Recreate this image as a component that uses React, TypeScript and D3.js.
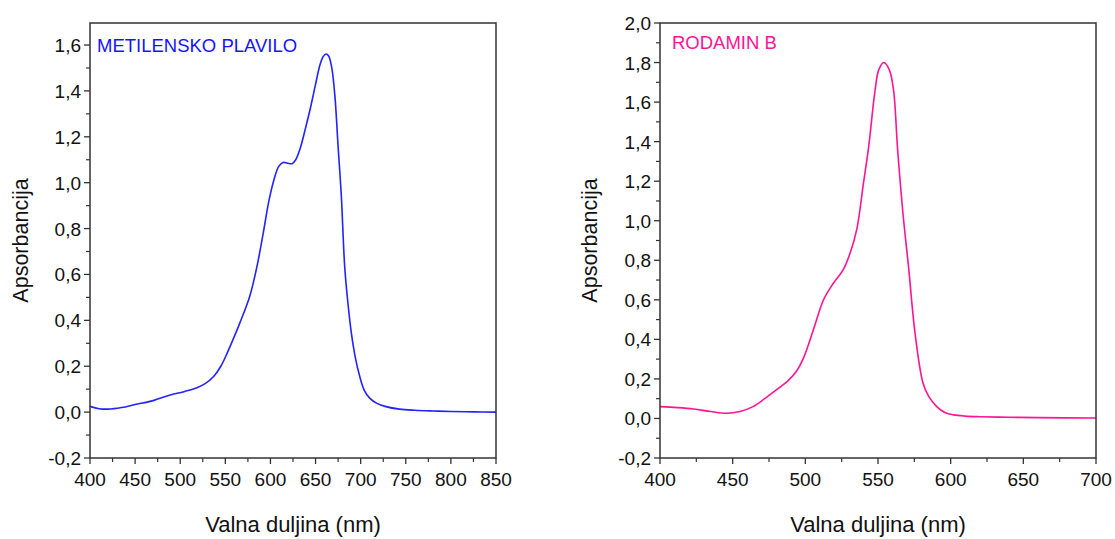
import React from "react";
import * as d3 from "d3";

const mbWavelength = [400, 410, 420, 435, 450, 470, 489, 505, 518, 528, 537, 545, 552, 560, 566, 577, 585, 592, 598, 603, 609, 614, 619, 624, 628, 633, 639, 644, 649.5, 655, 658.5, 661.6, 664.5, 668, 671.5, 675, 678.6, 682.3, 686, 689.7, 694, 699, 704, 710, 718, 728, 743, 760, 780, 800, 825, 850];
const mbAbsorbance = [0.025, 0.015, 0.013, 0.02, 0.033, 0.05, 0.075, 0.09, 0.105, 0.125, 0.155, 0.2, 0.257, 0.33, 0.388, 0.504, 0.634, 0.78, 0.915, 1.0, 1.07, 1.088, 1.085, 1.083, 1.1, 1.15, 1.24, 1.32, 1.42, 1.515, 1.55, 1.561, 1.552, 1.5, 1.375, 1.157, 0.94, 0.634, 0.47, 0.344, 0.24, 0.155, 0.095, 0.061, 0.038, 0.024, 0.013, 0.008, 0.005, 0.003, 0.001, 0.0];

const rbWavelength = [400, 412, 423, 435, 446, 455, 464, 472, 480, 488, 494, 499, 505.5, 512.4, 519.3, 526, 531, 535.5, 540, 543.5, 548, 550.5, 554, 557.8, 560.7, 563.5, 567.4, 571, 575.5, 581, 585, 590.4, 596, 602, 610, 620, 640, 660, 700];
const rbAbsorbance = [0.06, 0.055, 0.048, 0.035, 0.026, 0.035, 0.06, 0.1, 0.144, 0.19, 0.24, 0.31, 0.447, 0.598, 0.684, 0.751, 0.84, 0.96, 1.19, 1.37, 1.66, 1.763, 1.8, 1.763, 1.66, 1.36, 1.02, 0.768, 0.431, 0.178, 0.11, 0.06, 0.03, 0.018, 0.012, 0.009, 0.006, 0.004, 0.002];

const mbXTicks = [400, 450, 500, 550, 600, 650, 700, 750, 800, 850];
const mbYTicks = [-0.2, 0, 0.2, 0.4, 0.6, 0.8, 1.0, 1.2, 1.4, 1.6];
const rbXTicks = [400, 450, 500, 550, 600, 650, 700];
const rbYTicks = [-0.2, 0, 0.2, 0.4, 0.6, 0.8, 1.0, 1.2, 1.4, 1.6, 1.8, 2.0];

const xTitle = "Valna duljina (nm)";
const yTitle = "Apsorbancija";

const FONT = "'Liberation Sans', Arial, sans-serif";
const AXIS = "#333";

type PanelProps = {
  x0: number; x1: number; y0: number; y1: number;
  xDomain: [number, number]; yDomain: [number, number];
  xTicks: number[]; yTicks: number[];
  xs: number[]; ys: number[];
  color: string; label: string; labelColor: string;
  labelDx: number; labelY: number; yTitleX: number;
};

const fmt = (v: number) => d3.format(".1f")(v).replace(".", ",").replace("−", "-");

function Panel(p: PanelProps) {
  const x = d3.scaleLinear().domain(p.xDomain).range([p.x0, p.x1]);
  const y = d3.scaleLinear().domain(p.yDomain).range([p.y1, p.y0]);
  const pts = p.xs.map((w, i) => [w, p.ys[i]] as [number, number]);
  const line = d3.line<[number, number]>().x(d => x(d[0])).y(d => y(d[1])).curve(d3.curveCatmullRom.alpha(0.5));
  const xStep = p.xTicks[1] - p.xTicks[0];
  const xMinor = d3.range(p.xDomain[0] + xStep / 2, p.xDomain[1], xStep);
  const yStep = p.yTicks[1] - p.yTicks[0];
  const yMinor = d3.range(p.yTicks[0] + yStep / 2, p.yDomain[1] - 1e-9, yStep);
  const cx = (p.x0 + p.x1) / 2;
  const cy = (p.y0 + p.y1) / 2;
  return (
    <g>
      <path d={line(pts) || ""} fill="none" stroke={p.color} strokeWidth={1.6} />
      <rect x={p.x0} y={p.y0} width={p.x1 - p.x0} height={p.y1 - p.y0} fill="none" stroke={AXIS} strokeWidth={1.5} />
      {p.xTicks.map(t => (
        <g key={"xt" + t}>
          <line x1={x(t)} x2={x(t)} y1={p.y1} y2={p.y1 + 6} stroke={AXIS} strokeWidth={1.3} />
          <text x={x(t)} y={p.y1 + 28} fontSize={19} textAnchor="middle" fontFamily={FONT} fill="#111">{t}</text>
        </g>
      ))}
      {xMinor.map(t => (
        <line key={"xm" + t} x1={x(t)} x2={x(t)} y1={p.y1} y2={p.y1 + 4} stroke={AXIS} strokeWidth={1.2} />
      ))}
      {p.yTicks.map(t => (
        <g key={"yt" + t}>
          <line x1={p.x0 - 6} x2={p.x0} y1={y(t)} y2={y(t)} stroke={AXIS} strokeWidth={1.3} />
          <text x={p.x0 - 9} y={y(t) + 7} fontSize={19} textAnchor="end" fontFamily={FONT} fill="#111">{fmt(t)}</text>
        </g>
      ))}
      {yMinor.map(t => (
        <line key={"ym" + t} x1={p.x0 - 4} x2={p.x0} y1={y(t)} y2={y(t)} stroke={AXIS} strokeWidth={1.2} />
      ))}
      <text x={cx} y={532} fontSize={22} textAnchor="middle" fontFamily={FONT} fill="#111">{xTitle}</text>
      <text transform={`translate(${p.yTitleX},${cy}) rotate(-90)`} fontSize={21.5} textAnchor="middle" fontFamily={FONT} fill="#111">{yTitle}</text>
      <text x={p.x0 + p.labelDx} y={p.labelY} fontSize={18.5} fontFamily={FONT} fill={p.labelColor}>{p.label}</text>
    </g>
  );
}

export default function App() {
  return (
    <svg width={1115} height={539} style={{ position: "absolute", left: 0, top: 0, background: "#fff" }}>
      <rect width={1115} height={539} fill="#fff" />
      <Panel x0={90} x1={496} y0={23} y1={458} xDomain={[400, 850]} yDomain={[-0.2, 1.696]}
        xTicks={mbXTicks} yTicks={mbYTicks} xs={mbWavelength} ys={mbAbsorbance}
        color="#2323ff" label="METILENSKO PLAVILO" labelColor="#1414ff" labelDx={7} labelY={52} yTitleX={28} />
      <Panel x0={660} x1={1096} y0={23} y1={458} xDomain={[400, 700]} yDomain={[-0.2, 2.0]}
        xTicks={rbXTicks} yTicks={rbYTicks} xs={rbWavelength} ys={rbAbsorbance}
        color="#ff1493" label="RODAMIN B" labelColor="#ff1493" labelDx={12} labelY={49} yTitleX={597} />
    </svg>
  );
}
